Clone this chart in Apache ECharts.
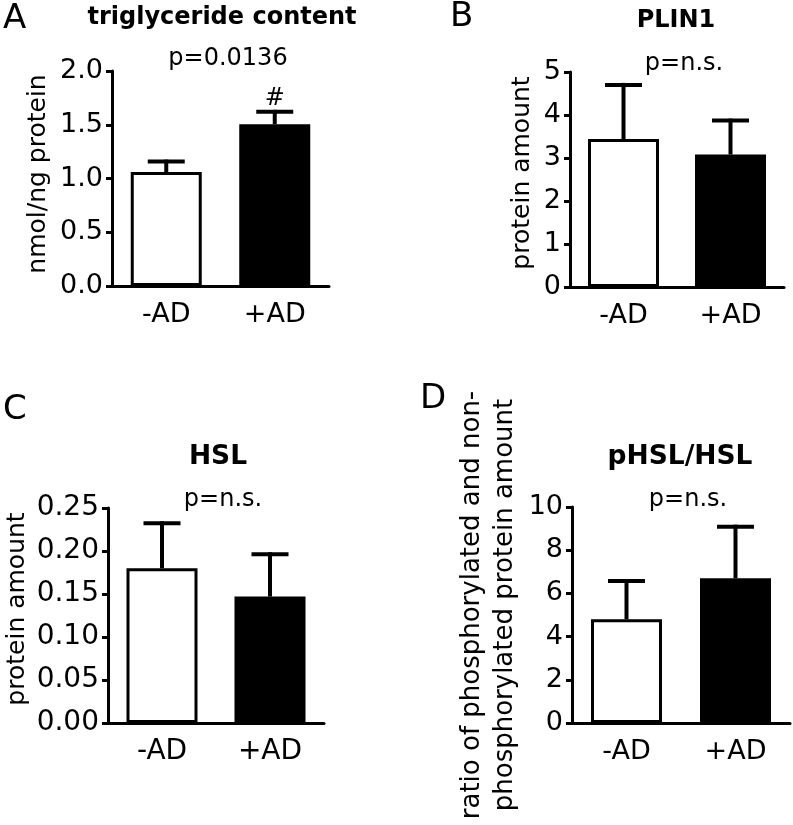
<!DOCTYPE html>
<html>
<head>
<meta charset="utf-8">
<script src="https://cdn.jsdelivr.net/npm/echarts@6/dist/echarts.min.js"></script>
<style>
html,body{margin:0;padding:0;background:#fff;}
#chart{width:793px;height:825px;}
</style>
</head>
<body>
<div id="chart"></div>
<script>
// ---- data ----
const categories = ['-AD', '+AD'];
const barColors = ['#ffffff', '#000000'];

const meanA = [1.06, 1.505];
const upperA = [1.157, 1.62];
const sigA = ['', '#'];
const ticksA = ['0.0', '0.5', '1.0', '1.5', '2.0'];

const meanB = [3.44, 3.08];
const upperB = [4.70, 3.87];
const sigB = ['', ''];
const ticksB = ['0', '1', '2', '3', '4', '5'];

const meanC = [0.180, 0.147];
const upperC = [0.2322, 0.1962];
const sigC = ['', ''];
const ticksC = ['0.00', '0.05', '0.10', '0.15', '0.20', '0.25'];

const meanD = [4.80, 6.70];
const upperD = [6.57, 9.09];
const sigD = ['', ''];
const ticksD = ['0', '2', '4', '6', '8', '10'];

const titles = ['triglyceride content', 'PLIN1', 'HSL', 'pHSL/HSL'];
const pTexts = ['p=0.0136', 'p=n.s.', 'p=n.s.', 'p=n.s.'];
const letters = ['A', 'B', 'C', 'D'];
const yNames = ['nmol/ng protein', 'protein amount', 'protein amount',
  'ratio of phosphorylated and non-\nphosphorylated protein amount'];

// ---- layout ----
const FONT = 'DejaVu Sans';
const panels = [
  { grid: {left: 112, top: 71, width: 217, height: 215}, max: 2, interval: 0.5, ticks: ticksA, mean: meanA, upper: upperA, sig: sigA,
    nameGap: 61, namePad: 9, nameSize: 25, tickSize: 27, titleSize: 24,
    letter: [3, 19.5], title: [222, 18], p: [228, 59] },
  { grid: {left: 570, top: 72, width: 214, height: 215}, max: 5, interval: 1, ticks: ticksB, mean: meanB, upper: upperB, sig: sigB,
    nameGap: 35, namePad: 13, nameSize: 25, tickSize: 27, titleSize: 24,
    letter: [450, 17.5], title: [676, 21], p: [684, 64] },
  { grid: {left: 108, top: 508, width: 216, height: 215}, max: 0.25, interval: 0.05, ticks: ticksC, mean: meanC, upper: upperC, sig: sigC,
    nameGap: 78, namePad: 13, nameSize: 25, tickSize: 28, titleSize: 26.5,
    letter: [3, 410], title: [218, 457], p: [223, 500] },
  { grid: {left: 572, top: 507, width: 218, height: 216}, max: 10, interval: 2, ticks: ticksD, mean: meanD, upper: upperD, sig: sigD,
    nameGap: 50, namePad: 20, nameSize: 26, nameLH: 33, tickSize: 27, titleSize: 26.5,
    letter: [420, 399], title: [680, 457], p: [688, 500] }
];

function makeRender(sig) {
  return function (params, api) {
    const i = api.value(0);
    const top = api.coord([i, api.value(1)]);
    const cap = api.coord([i, api.value(2)]);
    const hw = 18.5;
    const children = [
      {type: 'line', shape: {x1: top[0], y1: top[1], x2: cap[0], y2: cap[1] - 2}, style: {stroke: '#000', lineWidth: 4}},
      {type: 'line', shape: {x1: cap[0] - hw, y1: cap[1], x2: cap[0] + hw, y2: cap[1]}, style: {stroke: '#000', lineWidth: 4}}
    ];
    if (sig[i]) {
      children.push({type: 'text', x: cap[0], y: cap[1] - 13,
        style: {text: sig[i], font: '24px ' + FONT, fill: '#000', align: 'center', verticalAlign: 'middle', textAlign: 'center', textVerticalAlign: 'middle'}});
    }
    return {type: 'group', children: children};
  };
}

const grid = [], xAxis = [], yAxis = [], series = [], graphic = [];
panels.forEach(function (p, k) {
  grid.push(Object.assign({containLabel: false, outerBoundsMode: 'none'}, p.grid));
  xAxis.push({
    type: 'category', gridIndex: k, data: categories,
    axisLine: {show: true, lineStyle: {color: '#000', width: 3}},
    axisTick: {show: false},
    axisLabel: {color: '#000', fontFamily: FONT, fontSize: p.tickSize, margin: 15}
  });
  yAxis.push({
    type: 'value', gridIndex: k, min: 0, max: p.max, interval: p.interval,
    name: yNames[k], nameLocation: 'middle', nameGap: p.nameGap, nameRotate: 90,
    nameTextStyle: {color: '#000', fontFamily: FONT, fontSize: p.nameSize, lineHeight: p.nameLH || p.nameSize,
      padding: [0, 0, 0, p.namePad]},
    axisLine: {show: true, lineStyle: {color: '#000', width: 3}},
    axisTick: {show: true, length: 6, lineStyle: {color: '#000', width: 3}},
    splitLine: {show: false},
    axisLabel: {color: '#000', fontFamily: FONT, fontSize: p.tickSize, margin: 9,
      formatter: (function (ticks, iv) { return function (v) { return ticks[Math.round(v / iv)]; }; })(p.ticks, p.interval)}
  });
  series.push({
    type: 'bar', xAxisIndex: k, yAxisIndex: k, barWidth: 71,
    data: p.mean.map(function (v, i) { return {value: v, itemStyle: {color: barColors[i], borderColor: '#000', borderWidth: 3}}; }),
    silent: true, animation: false, z: 2
  });
  series.push({
    type: 'custom', xAxisIndex: k, yAxisIndex: k, renderItem: makeRender(p.sig),
    data: p.mean.map(function (v, i) { return [i, v, p.upper[i]]; }),
    silent: true, animation: false, z: 3
  });
  graphic.push({type: 'text', x: p.letter[0], y: p.letter[1],
    style: {text: letters[k], font: '34px ' + FONT, fill: '#000', align: 'left', verticalAlign: 'middle', textAlign: 'left', textVerticalAlign: 'middle'}});
  graphic.push({type: 'text', x: p.title[0], y: p.title[1],
    style: {text: titles[k], font: 'bold ' + p.titleSize + 'px ' + FONT, fill: '#000', align: 'center', verticalAlign: 'middle', textAlign: 'center', textVerticalAlign: 'middle'}});
  graphic.push({type: 'text', x: p.p[0], y: p.p[1],
    style: {text: pTexts[k], font: '24px ' + FONT, fill: '#000', align: 'center', verticalAlign: 'middle', textAlign: 'center', textVerticalAlign: 'middle'}});
});

const chart = echarts.init(document.getElementById('chart'), null, {renderer: 'canvas'});
chart.setOption({
  backgroundColor: '#fff',
  animation: false,
  grid: grid, xAxis: xAxis, yAxis: yAxis, series: series, graphic: graphic
});
</script>
</body>
</html>
